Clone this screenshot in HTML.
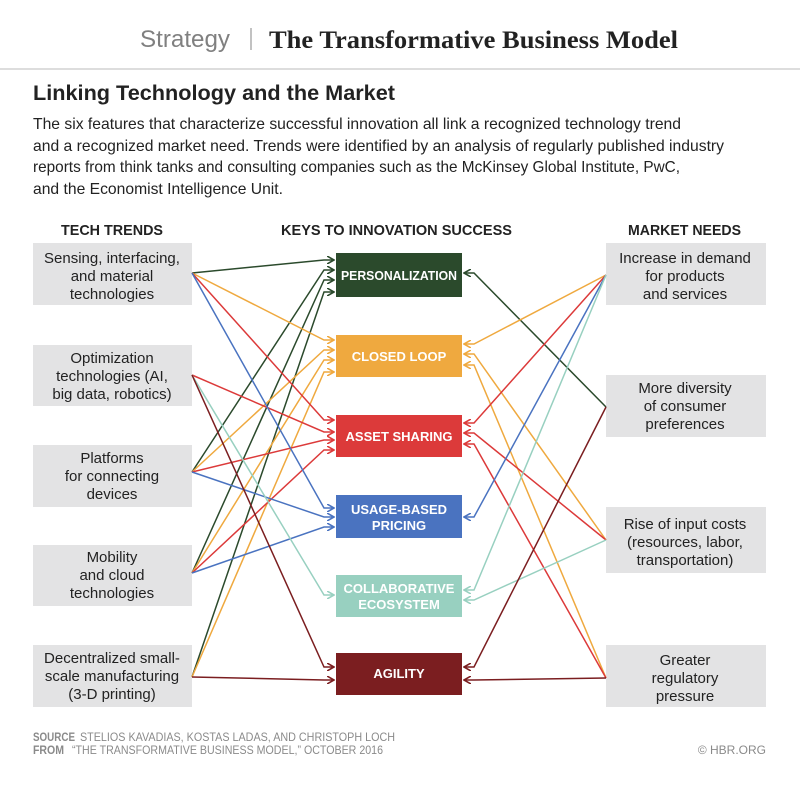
<!DOCTYPE html>
<html><head><meta charset="utf-8"><style>
html,body{margin:0;padding:0;background:#fff;}
svg{display:block;font-family:"Liberation Sans Narrow","Liberation Sans",sans-serif;}
</style></head><body>
<svg width="800" height="785" viewBox="0 0 800 785" xmlns="http://www.w3.org/2000/svg">
<defs>
<marker id="mg" markerWidth="8" markerHeight="8" refX="7" refY="4" orient="auto" markerUnits="userSpaceOnUse"><path d="M0,0 L7,4 L0,8" fill="none" stroke="#2b4a2c" stroke-width="1.6"/></marker>
<marker id="mo" markerWidth="8" markerHeight="8" refX="7" refY="4" orient="auto" markerUnits="userSpaceOnUse"><path d="M0,0 L7,4 L0,8" fill="none" stroke="#efa93f" stroke-width="1.6"/></marker>
<marker id="mr" markerWidth="8" markerHeight="8" refX="7" refY="4" orient="auto" markerUnits="userSpaceOnUse"><path d="M0,0 L7,4 L0,8" fill="none" stroke="#dc3a3a" stroke-width="1.6"/></marker>
<marker id="mb" markerWidth="8" markerHeight="8" refX="7" refY="4" orient="auto" markerUnits="userSpaceOnUse"><path d="M0,0 L7,4 L0,8" fill="none" stroke="#4a73c0" stroke-width="1.6"/></marker>
<marker id="mt" markerWidth="8" markerHeight="8" refX="7" refY="4" orient="auto" markerUnits="userSpaceOnUse"><path d="M0,0 L7,4 L0,8" fill="none" stroke="#98d0c0" stroke-width="1.6"/></marker>
<marker id="mm" markerWidth="8" markerHeight="8" refX="7" refY="4" orient="auto" markerUnits="userSpaceOnUse"><path d="M0,0 L7,4 L0,8" fill="none" stroke="#7b1e20" stroke-width="1.6"/></marker>
</defs>

<text x="140" y="47" font-size="24" fill="#808080" font-family="Liberation Sans, sans-serif" textLength="90" lengthAdjust="spacingAndGlyphs">Strategy</text>
<line x1="251" y1="28" x2="251" y2="50" stroke="#999" stroke-width="1.2"/>
<text x="269" y="48" font-size="25" font-weight="bold" fill="#222" font-family="Liberation Serif, serif" textLength="409" lengthAdjust="spacingAndGlyphs">The Transformative Business Model</text>
<rect x="0" y="68" width="800" height="2" fill="#ddd"/>

<text x="33" y="100" font-size="21" font-weight="bold" fill="#222" textLength="362" lengthAdjust="spacingAndGlyphs">Linking Technology and the Market</text>
<g font-size="16" fill="#222">
<text x="33" y="129" textLength="648" lengthAdjust="spacingAndGlyphs">The six features that characterize successful innovation all link a recognized technology trend</text>
<text x="33" y="151" textLength="691" lengthAdjust="spacingAndGlyphs">and a recognized market need. Trends were identified by an analysis of regularly published industry</text>
<text x="33" y="172" textLength="647" lengthAdjust="spacingAndGlyphs">reports from think tanks and consulting companies such as the McKinsey Global Institute, PwC,</text>
<text x="33" y="194" textLength="250" lengthAdjust="spacingAndGlyphs">and the Economist Intelligence Unit.</text>
</g>
<g font-size="15" font-weight="bold" fill="#222">
<text x="61" y="235" textLength="102" lengthAdjust="spacingAndGlyphs">TECH TRENDS</text>
<text x="281" y="235" textLength="231" lengthAdjust="spacingAndGlyphs">KEYS TO INNOVATION SUCCESS</text>
<text x="628" y="235" textLength="113" lengthAdjust="spacingAndGlyphs">MARKET NEEDS</text>
</g>

<g fill="#e3e3e4">
<rect x="33" y="243" width="159" height="62"/>
<rect x="33" y="345" width="159" height="61"/>
<rect x="33" y="445" width="159" height="62"/>
<rect x="33" y="545" width="159" height="61"/>
<rect x="33" y="645" width="159" height="62"/>
<rect x="606" y="243" width="160" height="62"/>
<rect x="606" y="375" width="160" height="62"/>
<rect x="606" y="507" width="160" height="66"/>
<rect x="606" y="645" width="160" height="62"/>
</g>
<g font-size="15" fill="#222" text-anchor="middle">
<text x="112" y="263">Sensing, interfacing,</text><text x="112" y="281">and material</text><text x="112" y="299">technologies</text>
<text x="112" y="363">Optimization</text><text x="112" y="381">technologies (AI,</text><text x="112" y="399">big data, robotics)</text>
<text x="112" y="463">Platforms</text><text x="112" y="481">for connecting</text><text x="112" y="499">devices</text>
<text x="112" y="562">Mobility</text><text x="112" y="580">and cloud</text><text x="112" y="598">technologies</text>
<text x="112" y="663">Decentralized small-</text><text x="112" y="681">scale manufacturing</text><text x="112" y="699">(3-D printing)</text>
<text x="685" y="263">Increase in demand</text><text x="685" y="281">for products</text><text x="685" y="299">and services</text>
<text x="685" y="393">More diversity</text><text x="685" y="411">of consumer</text><text x="685" y="429">preferences</text>
<text x="685" y="529">Rise of input costs</text><text x="685" y="547">(resources, labor,</text><text x="685" y="565">transportation)</text>
<text x="685" y="665">Greater</text><text x="685" y="683">regulatory</text><text x="685" y="701">pressure</text>
</g>

<rect x="336" y="253" width="126" height="44" fill="#2b4a2c"/>
<rect x="336" y="335" width="126" height="42" fill="#efa93f"/>
<rect x="336" y="415" width="126" height="42" fill="#dc3a3a"/>
<rect x="336" y="495" width="126" height="43" fill="#4a73c0"/>
<rect x="336" y="575" width="126" height="42" fill="#98d0c0"/>
<rect x="336" y="653" width="126" height="42" fill="#7b1e20"/>
<g font-size="13" font-weight="bold" fill="#fff" text-anchor="middle" font-family="Liberation Sans, sans-serif">
<text x="399" y="280" textLength="116" lengthAdjust="spacingAndGlyphs">PERSONALIZATION</text>
<text x="399" y="361">CLOSED LOOP</text>
<text x="399" y="441">ASSET SHARING</text>
<text x="399" y="514">USAGE-BASED</text><text x="399" y="530">PRICING</text>
<text x="399" y="593">COLLABORATIVE</text><text x="399" y="609">ECOSYSTEM</text>
<text x="399" y="678">AGILITY</text>
</g>

<g fill="none" stroke-width="1.5">
<polyline stroke="#2b4a2c" marker-end="url(#mg)" points="192,273 324,260 334,260"/>
<polyline stroke="#2b4a2c" marker-end="url(#mg)" points="192,472 324,270 334,270"/>
<polyline stroke="#2b4a2c" marker-end="url(#mg)" points="192,573 324,280 334,280"/>
<polyline stroke="#2b4a2c" marker-end="url(#mg)" points="192,677 324,292 334,292"/>
<polyline stroke="#efa93f" marker-end="url(#mo)" points="192,273 324,340 334,340"/>
<polyline stroke="#efa93f" marker-end="url(#mo)" points="192,472 324,350 334,350"/>
<polyline stroke="#efa93f" marker-end="url(#mo)" points="192,573 324,360 334,360"/>
<polyline stroke="#efa93f" marker-end="url(#mo)" points="192,677 324,372 334,372"/>
<polyline stroke="#dc3a3a" marker-end="url(#mr)" points="192,273 324,420 334,420"/>
<polyline stroke="#dc3a3a" marker-end="url(#mr)" points="192,375 324,432 334,432"/>
<polyline stroke="#dc3a3a" marker-end="url(#mr)" points="192,472 324,440 334,440"/>
<polyline stroke="#dc3a3a" marker-end="url(#mr)" points="192,573 324,450 334,450"/>
<polyline stroke="#4a73c0" marker-end="url(#mb)" points="192,273 324,508 334,508"/>
<polyline stroke="#4a73c0" marker-end="url(#mb)" points="192,472 324,517 334,517"/>
<polyline stroke="#4a73c0" marker-end="url(#mb)" points="192,573 324,527 334,527"/>
<polyline stroke="#98d0c0" marker-end="url(#mt)" points="192,375 324,595 334,595"/>
<polyline stroke="#7b1e20" marker-end="url(#mm)" points="192,375 324,667 334,667"/>
<polyline stroke="#7b1e20" marker-end="url(#mm)" points="192,677 324,680 334,680"/>

<polyline stroke="#2b4a2c" marker-end="url(#mg)" points="606,407 474,273 464,273"/>
<polyline stroke="#efa93f" marker-end="url(#mo)" points="606,275 474,344 464,344"/>
<polyline stroke="#efa93f" marker-end="url(#mo)" points="606,540 474,354 464,354"/>
<polyline stroke="#efa93f" marker-end="url(#mo)" points="606,678 474,365 464,365"/>
<polyline stroke="#dc3a3a" marker-end="url(#mr)" points="606,275 474,423 464,423"/>
<polyline stroke="#dc3a3a" marker-end="url(#mr)" points="606,540 474,433 464,433"/>
<polyline stroke="#dc3a3a" marker-end="url(#mr)" points="606,678 474,444 464,444"/>
<polyline stroke="#4a73c0" marker-end="url(#mb)" points="606,275 474,517 464,517"/>
<polyline stroke="#98d0c0" marker-end="url(#mt)" points="606,275 474,590 464,590"/>
<polyline stroke="#98d0c0" marker-end="url(#mt)" points="606,540 474,600 464,600"/>
<polyline stroke="#7b1e20" marker-end="url(#mm)" points="606,407 474,667 464,667"/>
<polyline stroke="#7b1e20" marker-end="url(#mm)" points="606,678 474,680 464,680"/>
</g>

<g font-size="12" fill="#8a8a8a">
<text x="33" y="741" font-weight="bold" textLength="42" lengthAdjust="spacingAndGlyphs">SOURCE</text>
<text x="80" y="741" textLength="315" lengthAdjust="spacingAndGlyphs">STELIOS KAVADIAS, KOSTAS LADAS, AND CHRISTOPH LOCH</text>
<text x="33" y="754" font-weight="bold" textLength="31" lengthAdjust="spacingAndGlyphs">FROM</text>
<text x="72" y="754" textLength="311" lengthAdjust="spacingAndGlyphs">“THE TRANSFORMATIVE BUSINESS MODEL,” OCTOBER 2016</text>
<text x="766" y="754" text-anchor="end">© HBR.ORG</text>
</g>
</svg>
</body></html>
